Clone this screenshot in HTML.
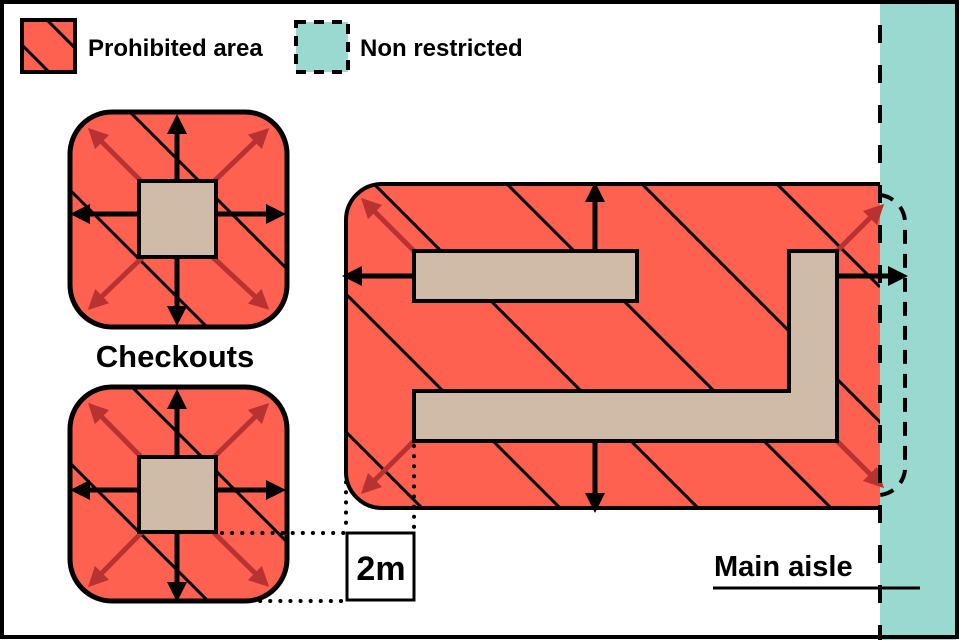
<!DOCTYPE html>
<html><head><meta charset="utf-8"><style>
html,body{margin:0;padding:0;background:#fff;width:960px;height:640px;overflow:hidden}
svg{display:block}
text{font-family:"Liberation Sans",Arial,sans-serif;font-weight:bold;fill:#000}
</style></head><body>
<svg width="960" height="640" viewBox="0 0 960 640" xmlns="http://www.w3.org/2000/svg">
<defs>
<marker id="ab" viewBox="0 0 10 10" refX="5" refY="5" markerWidth="4" markerHeight="4" orient="auto"><path d="M0,0 L10,5 L0,10 z" fill="#000"/></marker>
<marker id="ar" viewBox="0 0 10 10" refX="5" refY="5" markerWidth="4" markerHeight="4" orient="auto"><path d="M0,0 L10,5 L0,10 z" fill="#b83232"/></marker>
<clipPath id="c1"><rect x="70" y="112" width="217" height="215" rx="42"/></clipPath>
<clipPath id="c2"><rect x="70" y="387" width="217" height="214" rx="42"/></clipPath>
<clipPath id="c3"><rect x="346" y="184" width="560" height="324" rx="36"/></clipPath>
<clipPath id="cl"><rect x="22" y="20" width="53" height="52"/></clipPath>
</defs>
<rect x="0" y="0" width="960" height="640" fill="#fff"/>
<rect x="880" y="0" width="76" height="640" fill="#9ad9cf"/>

<rect x="22" y="20" width="53" height="52" fill="#ff6150"/>
<g clip-path="url(#cl)" stroke="#000" stroke-width="3">
<line x1="27" y1="0" x2="127" y2="100"/><line x1="0" y1="23" x2="100" y2="123"/>
</g>
<rect x="22" y="20" width="53" height="52" fill="none" stroke="#000" stroke-width="4"/>
<text x="88" y="56" font-size="24">Prohibited area</text>
<rect x="296" y="22" width="52" height="50" fill="#9ad9cf" stroke="#000" stroke-width="4" stroke-dasharray="10 8"/>
<text x="360" y="56" font-size="24">Non restricted</text>

<rect x="70" y="112" width="217" height="215" rx="42" fill="#ff6150"/>
<g clip-path="url(#c1)" stroke="#000" stroke-width="3">
<line x1="0" y1="-18" x2="400" y2="382"/><line x1="0" y1="120" x2="400" y2="520"/>
</g>
<g stroke="#b83232" stroke-width="5" marker-end="url(#ar)">
<line x1="150" y1="190" x2="95" y2="135"/><line x1="205" y1="190" x2="262" y2="135"/>
<line x1="150" y1="250" x2="95" y2="303"/><line x1="205" y1="250" x2="262" y2="303"/>
</g>
<g stroke="#000" stroke-width="5" marker-end="url(#ab)">
<line x1="177" y1="181" x2="177" y2="124"/><line x1="177" y1="257" x2="177" y2="316"/>
<line x1="139" y1="214" x2="80" y2="214"/><line x1="216" y1="214" x2="276" y2="214"/>
</g>
<rect x="139" y="181" width="77" height="76" fill="#d0bba8" stroke="#000" stroke-width="4"/>
<rect x="70" y="112" width="217" height="215" rx="42" fill="none" stroke="#000" stroke-width="5"/>

<text x="175" y="367" font-size="31" text-anchor="middle">Checkouts</text>

<rect x="70" y="387" width="217" height="214" rx="42" fill="#ff6150"/>
<g clip-path="url(#c2)" stroke="#000" stroke-width="3">
<line x1="0" y1="255" x2="400" y2="655"/><line x1="0" y1="393" x2="400" y2="793"/>
</g>
<g stroke="#b83232" stroke-width="5" marker-end="url(#ar)">
<line x1="150" y1="466" x2="95" y2="410"/><line x1="205" y1="466" x2="262" y2="410"/>
<line x1="150" y1="524" x2="95" y2="580"/><line x1="205" y1="524" x2="262" y2="580"/>
</g>
<g stroke="#000" stroke-width="5" marker-end="url(#ab)">
<line x1="177" y1="457" x2="177" y2="399"/><line x1="177" y1="532" x2="177" y2="592"/>
<line x1="139" y1="490" x2="80" y2="490"/><line x1="216" y1="490" x2="276" y2="490"/>
</g>
<rect x="139" y="457" width="77" height="75" fill="#d0bba8" stroke="#000" stroke-width="4"/>
<rect x="70" y="387" width="217" height="214" rx="42" fill="none" stroke="#000" stroke-width="5"/>

<rect x="346" y="184" width="534" height="324" fill="#ff6150" clip-path="url(#c3)"/>
<g clip-path="url(#c3)" stroke="#000" stroke-width="3">
<line x1="300" y1="386" x2="900" y2="986"/>
<line x1="300" y1="248" x2="900" y2="848"/>
<line x1="300" y1="110" x2="900" y2="710"/>
<line x1="300" y1="-23" x2="900" y2="577"/>
<line x1="300" y1="-158" x2="900" y2="442"/>
<line x1="300" y1="-293" x2="880" y2="287"/>
<line x1="300" y1="-428" x2="880" y2="152"/>
</g>
<rect x="880" y="180" width="30" height="340" fill="#9ad9cf"/>
<g stroke="#b83232" stroke-width="5" marker-end="url(#ar)">
<line x1="414" y1="251" x2="368" y2="205"/><line x1="837" y1="251" x2="877" y2="211"/>
<line x1="837" y1="441" x2="877" y2="481"/><line x1="414" y1="441" x2="368" y2="487"/>
</g>
<g stroke="#000" stroke-width="5" marker-end="url(#ab)">
<line x1="595" y1="251" x2="595" y2="192"/><line x1="595" y1="441" x2="595" y2="503"/>
<line x1="414" y1="276" x2="352" y2="276"/><line x1="837" y1="276" x2="898" y2="276"/>
</g>
<rect x="414" y="251" width="223" height="50" fill="#d0bba8" stroke="#000" stroke-width="4"/>
<path d="M789,251 H837 V441 H414 V391 H789 Z" fill="#d0bba8" stroke="#000" stroke-width="4"/>
<path d="M880,184 H382 A36,36 0 0 0 346,220 V472 A36,36 0 0 0 382,508 H880" fill="none" stroke="#000" stroke-width="4"/>
<path d="M880,195 A28,28 0 0 1 905,222 V470 A28,28 0 0 1 880,495" fill="none" stroke="#000" stroke-width="4" stroke-dasharray="14 10"/>

<g stroke="#000" stroke-width="4" stroke-dasharray="0.1 10" stroke-linecap="round">
<line x1="346" y1="462" x2="346" y2="532"/>
<line x1="414" y1="446" x2="414" y2="532"/>
<line x1="222" y1="533" x2="346" y2="533"/>
<line x1="250" y1="601" x2="346" y2="601"/>
</g>
<rect x="347" y="533" width="67" height="67" fill="#fff" stroke="#000" stroke-width="3"/>
<text x="381" y="580" font-size="34" text-anchor="middle">2m</text>

<line x1="880" y1="0" x2="880" y2="640" stroke="#000" stroke-width="4" stroke-dasharray="18 22" stroke-dashoffset="-25"/>
<text x="714" y="576" font-size="29">Main aisle</text>
<line x1="713" y1="588" x2="920" y2="588" stroke="#000" stroke-width="3"/>

<rect x="2" y="2" width="955" height="635" fill="none" stroke="#000" stroke-width="4"/>
</svg>
</body></html>
